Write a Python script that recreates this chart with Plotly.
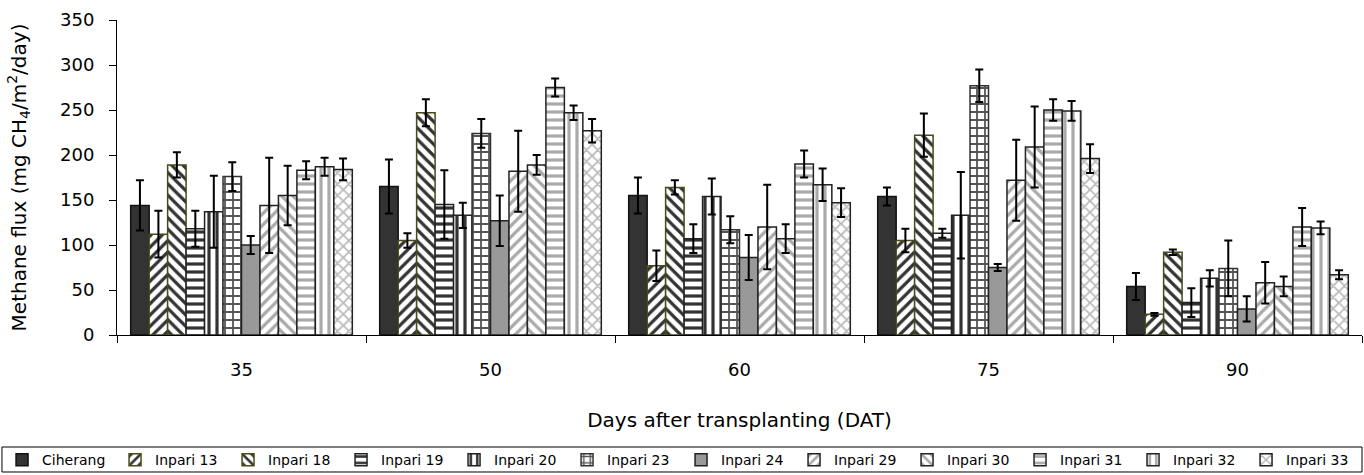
import plotly.graph_objects as go

days = ["35", "50", "60", "75", "90"]
varieties = ["Ciherang", "Inpari 13", "Inpari 18", "Inpari 19", "Inpari 20", "Inpari 23",
             "Inpari 24", "Inpari 29", "Inpari 30", "Inpari 31", "Inpari 32", "Inpari 33"]

ciherang = [144, 165, 155, 154, 54]
inpari13 = [112, 105, 77, 105, 23]
inpari18 = [189, 247, 164, 222, 92]
inpari19 = [118, 145, 107, 113, 36]
inpari20 = [137, 133, 154, 133, 63]
inpari23 = [176, 224, 117, 277, 74]
inpari24 = [100, 127, 86, 75, 29]
inpari29 = [144, 182, 120, 172, 58]
inpari30 = [155, 189, 107, 209, 54]
inpari31 = [183, 275, 190, 250, 120]
inpari32 = [187, 247, 167, 249, 119]
inpari33 = [184, 227, 147, 196, 67]

err_ciherang = [28, 30, 20, 10, 15]
err_inpari13 = [26, 8, 17, 13, 1.5]
err_inpari18 = [14, 15, 8, 24, 3]
err_inpari19 = [20, 38, 16, 5, 16]
err_inpari20 = [40, 14, 20, 48, 9]
err_inpari23 = [16, 16, 15, 18, 31]
err_inpari24 = [10, 28, 25, 4, 14]
err_inpari29 = [53, 45, 47, 45, 23]
err_inpari30 = [33, 11, 16, 45, 11]
err_inpari31 = [10, 10, 15, 12, 21]
err_inpari32 = [10, 8, 18, 11, 7]
err_inpari33 = [12, 13, 16, 16, 5]

values = [ciherang, inpari13, inpari18, inpari19, inpari20, inpari23,
          inpari24, inpari29, inpari30, inpari31, inpari32, inpari33]
errors = [err_ciherang, err_inpari13, err_inpari18, err_inpari19, err_inpari20, err_inpari23,
          err_inpari24, err_inpari29, err_inpari30, err_inpari31, err_inpari32, err_inpari33]

# (bg color, pattern shape, pattern fg color, outline color)
styles = [
    ("#333333", "", "#333333", "#111111"),
    ("white", "/", "#333333", "#4a4a1a"),
    ("white", "\\", "#333333", "#4a4a1a"),
    ("white", "-", "#333333", "#222222"),
    ("white", "|", "#333333", "#222222"),
    ("white", "+", "#555555", "#333333"),
    ("#999999", "", "#999999", "#222222"),
    ("white", "/", "#aaaaaa", "#222222"),
    ("white", "\\", "#aaaaaa", "#222222"),
    ("white", "-", "#aaaaaa", "#222222"),
    ("white", "|", "#aaaaaa", "#222222"),
    ("white", "x", "#bbbbbb", "#222222"),
]

fig = go.Figure()
for i, (name, vals, errs, (bg, shape, fg, lc)) in enumerate(zip(varieties, values, errors, styles)):
    marker = dict(color=bg, line=dict(color=lc, width=1.5))
    if shape:
        marker["pattern"] = dict(shape=shape, fgcolor=fg, bgcolor=bg, size=8, solidity=0.4, fillmode="replace")
    fig.add_trace(go.Bar(
        name=name, x=days, y=vals, marker=marker,
        legend="legend" if i < 6 else "legend2",
        error_y=dict(type="data", array=errs, visible=True, color="black", thickness=2, width=4),
    ))

font_family = "DejaVu Sans, sans-serif"
legend_common = dict(
    orientation="h", xref="container", yref="container",
    xanchor="left", y=0.065, yanchor="top",
    borderwidth=0, bgcolor="rgba(0,0,0,0)", font=dict(size=14),
    itemwidth=30, tracegroupgap=0, entrywidth=68, entrywidthmode="pixels",
)
fig.update_layout(
    width=1364, height=475,
    barmode="group", bargap=0.11, bargroupgap=0,
    plot_bgcolor="white", paper_bgcolor="white",
    font=dict(family=font_family, size=16, color="black"),
    margin=dict(l=117, r=2, t=20, b=140, autoexpand=False),
    xaxis=dict(
        type="category", showline=True, linecolor="black", linewidth=1,
        ticks="outside", tickson="boundaries", ticklen=7, tickcolor="black",
        tickfont=dict(size=18), ticklabelstandoff=18,
        title=dict(text="Days after transplanting (DAT)", font=dict(size=20), standoff=34),
    ),
    yaxis=dict(
        range=[0, 350], dtick=50, showline=True, linecolor="black", linewidth=1,
        ticks="outside", ticklen=7, tickcolor="black", showgrid=False, zeroline=False,
        tickfont=dict(size=18), ticklabelstandoff=11,
        title=dict(text="Methane flux (mg CH<sub>4</sub>/m<sup>2</sup>/day)", font=dict(size=20), standoff=28),
    ),
    legend=dict(legend_common, x=0.0015),
    legend2=dict(legend_common, x=0.4993),
    shapes=[dict(
        type="rect", xref="paper", yref="paper",
        x0=-0.0924, x1=1.0, y0=-0.4349, y1=-0.3556,
        line=dict(color="black", width=1), fillcolor="rgba(0,0,0,0)",
    )],
)

fig.write_html("out.html", config={"displayModeBar": False},
               post_script="document.body.style.margin='0';")
